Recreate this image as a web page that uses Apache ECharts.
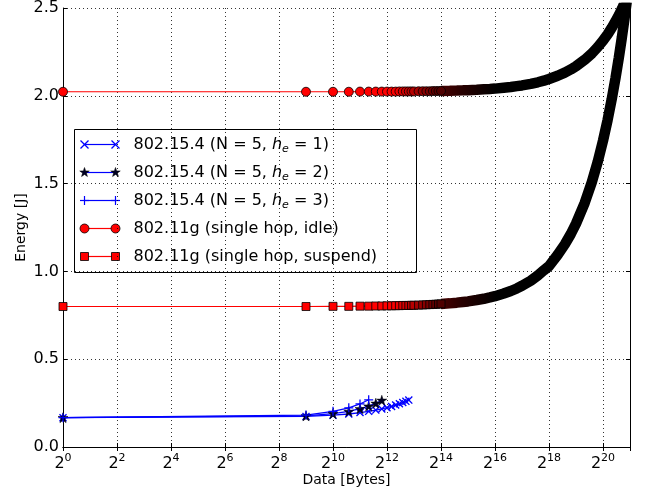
<!DOCTYPE html>
<html><head><meta charset="utf-8">
<script src="https://cdn.jsdelivr.net/npm/echarts@6/dist/echarts.min.js"></script>
<style>html,body{margin:0;padding:0;background:#fff}#c{width:649px;height:492px}</style>
</head><body><div id="c"></div>
<script>
// ---------------- data ----------------
const seriesNames = [
  '802.15.4 (N = 5, h_e = 1)',
  '802.15.4 (N = 5, h_e = 2)',
  '802.15.4 (N = 5, h_e = 3)',
  '802.11g (single hop, idle)',
  '802.11g (single hop, suspend)'
];
const he1Bytes  = [1, 512, 1024, 1536, 2048, 2560, 3072, 3584, 4096, 4608, 5120, 5632, 6144, 6656, 7168];
const he1Energy = [0.167, 0.174, 0.181, 0.188, 0.196, 0.203, 0.210, 0.217, 0.224, 0.231, 0.239, 0.246, 0.253, 0.260, 0.267];
const he2Bytes  = [1, 512, 1024, 1536, 2048, 2560, 3072, 3584];
const he2Energy = [0.167, 0.177, 0.190, 0.203, 0.218, 0.233, 0.249, 0.266];
const he3Bytes  = [1, 512, 1024, 1536, 2048, 2560];
const he3Energy = [0.167, 0.182, 0.203, 0.223, 0.245, 0.269];
const wifiBytes = [1, 512, 1024, 1536, 2048, 2560, 3072, 3584, 4096, 4608, 5120, 5632, 6144, 6656, 7168, 7680, 8192,
  9216, 10240, 11264, 12288, 13312, 14336, 15360, 16384, 20480, 24576, 28672, 32768, 40960, 49152, 57344, 65536,
  81920, 98304, 114688, 131072, 163840, 196608, 229376, 262144, 327680, 393216, 458752, 524288, 655360, 786432,
  917504, 1048576, 1179648, 1310720, 1441792, 1572864, 1703936, 1835008, 1966080, 2097152];
const idleEnergy = [2.023, 2.023, 2.023, 2.023, 2.024, 2.024, 2.024, 2.024, 2.024, 2.024, 2.024, 2.025, 2.025, 2.025, 2.025, 2.025, 2.025,
  2.026, 2.026, 2.026, 2.026, 2.027, 2.027, 2.027, 2.028, 2.029, 2.030, 2.031, 2.032, 2.034, 2.037, 2.039, 2.041,
  2.046, 2.050, 2.055, 2.059, 2.068, 2.077, 2.086, 2.096, 2.114, 2.132, 2.150, 2.168, 2.205, 2.241,
  2.278, 2.314, 2.350, 2.387, 2.423, 2.459, 2.495, 2.532, 2.568, 2.604];
const suspendEnergy = [0.800, 0.800, 0.801, 0.801, 0.802, 0.802, 0.803, 0.803, 0.804, 0.804, 0.805, 0.805, 0.806, 0.806, 0.806, 0.807, 0.807,
  0.808, 0.809, 0.810, 0.811, 0.812, 0.813, 0.814, 0.815, 0.818, 0.822, 0.826, 0.829, 0.837, 0.844, 0.852, 0.859,
  0.874, 0.888, 0.903, 0.918, 0.947, 0.977, 1.006, 1.030, 1.095, 1.154, 1.213, 1.272, 1.390, 1.508,
  1.626, 1.744, 1.862, 1.980, 2.098, 2.216, 2.334, 2.452, 2.569, 2.687];
const xTickExponents = [0, 2, 4, 6, 8, 10, 12, 14, 16, 18, 20];
const yTickLabels = ['0.0', '0.5', '1.0', '1.5', '2.0', '2.5'];

// ---------------- styling ----------------
const FONT = 'DejaVu Sans';
const X_PATH = 'path://M0,0.12L0.12,0L0.5,0.38L0.88,0L1,0.12L0.62,0.5L1,0.88L0.88,1L0.5,0.62L0.12,1L0,0.88L0.38,0.5Z';
const PLUS_PATH = 'path://M0.43,0H0.57V0.43H1V0.57H0.57V1H0.43V0.57H0V0.43H0.43Z';
const STAR_PATH = 'path://M50,0L61.2,34.5L97.6,34.5L68.2,55.9L79.4,90.5L50,69.1L20.6,90.5L31.8,55.9L2.4,34.5L38.8,34.5Z';
const BAND_START = 16384;

const pairs = (xs, ys) => xs.map((x, i) => [x, ys[i]]);
function redShade(x) {
  const e = Math.log2(x);
  if (e <= 12.3) return '#ff0000';
  const t = Math.min(1, (e - 12.3) / 1.7);
  const r = Math.round(255 * (1 - t) + 80 * t);
  return 'rgb(' + r + ',0,0)';
}
const sparsePart = (xs, ys) => xs.map((x, i) => ({ value: [x, ys[i]], itemStyle: { color: redShade(x) } }))
  .filter(p => p.value[0] <= BAND_START);
const densePart = (xs, ys) => pairs(xs, ys).filter(p => p[0] >= BAND_START);
const bandColor = { type: 'linear', x: 0, y: 0, x2: 1, y2: 0,
  colorStops: [{ offset: 0, color: '#500000' }, { offset: 0.12, color: '#2a0000' }, { offset: 0.3, color: '#000000' }, { offset: 1, color: '#000000' }] };

const xMin = Math.pow(2, xTickExponents[0]);
const xMax = Math.pow(2, 21);

function xAxisCfg(pos, labels) {
  return {
    type: 'log', logBase: 2, min: xMin, max: xMax, interval: 2, position: pos,
    axisLine: { show: true, lineStyle: { color: '#000', width: 1 } },
    axisTick: { show: true, inside: true, length: 4, lineStyle: { color: '#000' } },
    splitLine: { show: labels, lineStyle: { color: '#000', width: 0.8, type: [1, 3] } },
    axisLabel: labels ? {
      show: true, margin: 6, showMaxLabel: false,
      formatter: v => { const e = Math.round(Math.log2(v)); return '{b|2}{s|' + e + '}'; },
      rich: {
        b: { fontFamily: FONT, fontSize: 16, color: '#000' },
        s: { fontFamily: FONT, fontSize: 11, color: '#000', padding: [0, 0, 11, 0] }
      }
    } : { show: false },
    name: labels ? 'Data [Bytes]' : '', nameLocation: 'middle', nameGap: 26, nameMoveOverlap: false,
    nameTextStyle: { fontFamily: FONT, fontSize: 14, color: '#000' }
  };
}
function yAxisCfg(pos, labels) {
  return {
    type: 'value', min: 0, max: 2.5, interval: 0.5, position: pos,
    axisLine: { show: true, lineStyle: { color: '#000', width: 1 } },
    axisTick: { show: true, inside: true, length: 4, lineStyle: { color: '#000' } },
    splitLine: { show: labels, lineStyle: { color: '#000', width: 0.8, type: [1, 3] } },
    axisLabel: labels ? { show: true, margin: 4, fontFamily: FONT, fontSize: 16, color: '#000',
      formatter: v => yTickLabels[Math.round(v / 0.5)] } : { show: false },
    name: labels ? 'Energy [J]' : '', nameLocation: 'middle', nameGap: 35, nameMoveOverlap: false,
    nameTextStyle: { fontFamily: FONT, fontSize: 14, color: '#000' }
  };
}

const series = [
  { type: 'line', name: seriesNames[0], data: pairs(he1Bytes, he1Energy), symbol: X_PATH, symbolSize: 8,
    lineStyle: { color: '#0000ff', width: 1.3 }, itemStyle: { color: '#0000ff' } },
  { type: 'line', name: seriesNames[1], data: pairs(he2Bytes, he2Energy), symbol: STAR_PATH, symbolSize: 10,
    lineStyle: { color: '#0000ff', width: 1.3 }, itemStyle: { color: '#000022', borderColor: '#000', borderWidth: 0.5 } },
  { type: 'line', name: seriesNames[2], data: pairs(he3Bytes, he3Energy), symbol: PLUS_PATH, symbolSize: 9,
    lineStyle: { color: '#0000ff', width: 1.3 }, itemStyle: { color: '#0000ff' } },
  { type: 'line', name: seriesNames[3], data: sparsePart(wifiBytes, idleEnergy), symbol: 'circle', symbolSize: 9,
    lineStyle: { color: '#ff0000', width: 1.2 }, itemStyle: { borderColor: '#000', borderWidth: 0.8 } },
  { type: 'line', name: seriesNames[3] + ' band', data: densePart(wifiBytes, idleEnergy), symbol: 'none',
    lineStyle: { color: bandColor, width: 10.5 } },
  { type: 'line', name: seriesNames[4], data: sparsePart(wifiBytes, suspendEnergy), symbol: 'rect', symbolSize: 8,
    lineStyle: { color: '#ff0000', width: 1.2 }, itemStyle: { borderColor: '#000', borderWidth: 0.8 } },
  { type: 'line', name: seriesNames[4] + ' band', data: densePart(wifiBytes, suspendEnergy), symbol: 'none',
    lineStyle: { color: bandColor, width: 10.5 } }
].map(s => Object.assign({ showAllSymbol: true, clip: true, animation: false, silent: true, xAxisIndex: 0, yAxisIndex: 0 }, s));

// ---------------- legend (drawn with graphic) ----------------
function legendText(name) {
  return name.replace('h_e', '{h|h}{e|e}');
}
function starPoints(cx, cy, R) {
  const pts = [];
  for (let k = 0; k < 10; k++) {
    const r = k % 2 === 0 ? R : R * 0.4;
    const a = -Math.PI / 2 + k * Math.PI / 5;
    pts.push([cx + r * Math.cos(a), cy + r * Math.sin(a)]);
  }
  return pts;
}
function markerEls(kind, cx, cy) {
  if (kind === 'x') return [
    { type: 'line', shape: { x1: cx - 4, y1: cy - 4, x2: cx + 4, y2: cy + 4 }, style: { stroke: '#0000ff', lineWidth: 1.2 } },
    { type: 'line', shape: { x1: cx - 4, y1: cy + 4, x2: cx + 4, y2: cy - 4 }, style: { stroke: '#0000ff', lineWidth: 1.2 } }];
  if (kind === 'plus') return [
    { type: 'line', shape: { x1: cx - 4.5, y1: cy, x2: cx + 4.5, y2: cy }, style: { stroke: '#0000ff', lineWidth: 1.2 } },
    { type: 'line', shape: { x1: cx, y1: cy - 4.5, x2: cx, y2: cy + 4.5 }, style: { stroke: '#0000ff', lineWidth: 1.2 } }];
  if (kind === 'star') return [
    { type: 'polygon', shape: { points: starPoints(cx, cy, 5) }, style: { fill: '#000022', stroke: '#000', lineWidth: 0.5 } }];
  if (kind === 'circle') return [
    { type: 'circle', shape: { cx: cx, cy: cy, r: 4.5 }, style: { fill: '#ff0000', stroke: '#000', lineWidth: 0.8 } }];
  return [{ type: 'rect', shape: { x: cx - 4, y: cy - 4, width: 8, height: 8 }, style: { fill: '#ff0000', stroke: '#000', lineWidth: 0.8 } }];
}
const legendKinds = ['x', 'star', 'plus', 'circle', 'rect'];
const legendLineColors = ['#0000ff', '#0000ff', '#0000ff', '#ff0000', '#ff0000'];
const legendChildren = [{ type: 'rect', shape: { x: 0, y: 0, width: 342, height: 143 }, style: { fill: '#fff', stroke: '#000', lineWidth: 1 } }];
seriesNames.forEach((nm, i) => {
  const y = 15 + 28 * i;
  legendChildren.push({ type: 'line', shape: { x1: 10, y1: y, x2: 41, y2: y }, style: { stroke: legendLineColors[i], lineWidth: 1.2 } });
  legendChildren.push(...markerEls(legendKinds[i], 10, y), ...markerEls(legendKinds[i], 41, y));
  legendChildren.push({ type: 'text', x: 59, y: y, style: {
    text: legendText(nm), fill: '#000', font: '16px "' + FONT + '"', fontFamily: FONT, fontSize: 16, verticalAlign: 'middle', align: 'left',
    rich: { h: { fontFamily: FONT, fontSize: 16, fontStyle: 'italic', fill: '#000' },
            e: { fontFamily: FONT, fontSize: 11, fontStyle: 'italic', fill: '#000', padding: [9, 0, 0, 0] } } } });
});

const chart = echarts.init(document.getElementById('c'), null, { renderer: 'canvas' });
chart.setOption({
  backgroundColor: '#fff',
  animation: false,
  textStyle: { fontFamily: FONT },
  grid: { left: 63, right: 19, top: 8, bottom: 45, containLabel: false },
  xAxis: [xAxisCfg('bottom', true), xAxisCfg('top', false)],
  yAxis: [yAxisCfg('left', true), yAxisCfg('right', false)],
  series: series,
  graphic: [{ type: 'group', left: 74, top: 129, z: 100, children: legendChildren }]
});
</script></body></html>
